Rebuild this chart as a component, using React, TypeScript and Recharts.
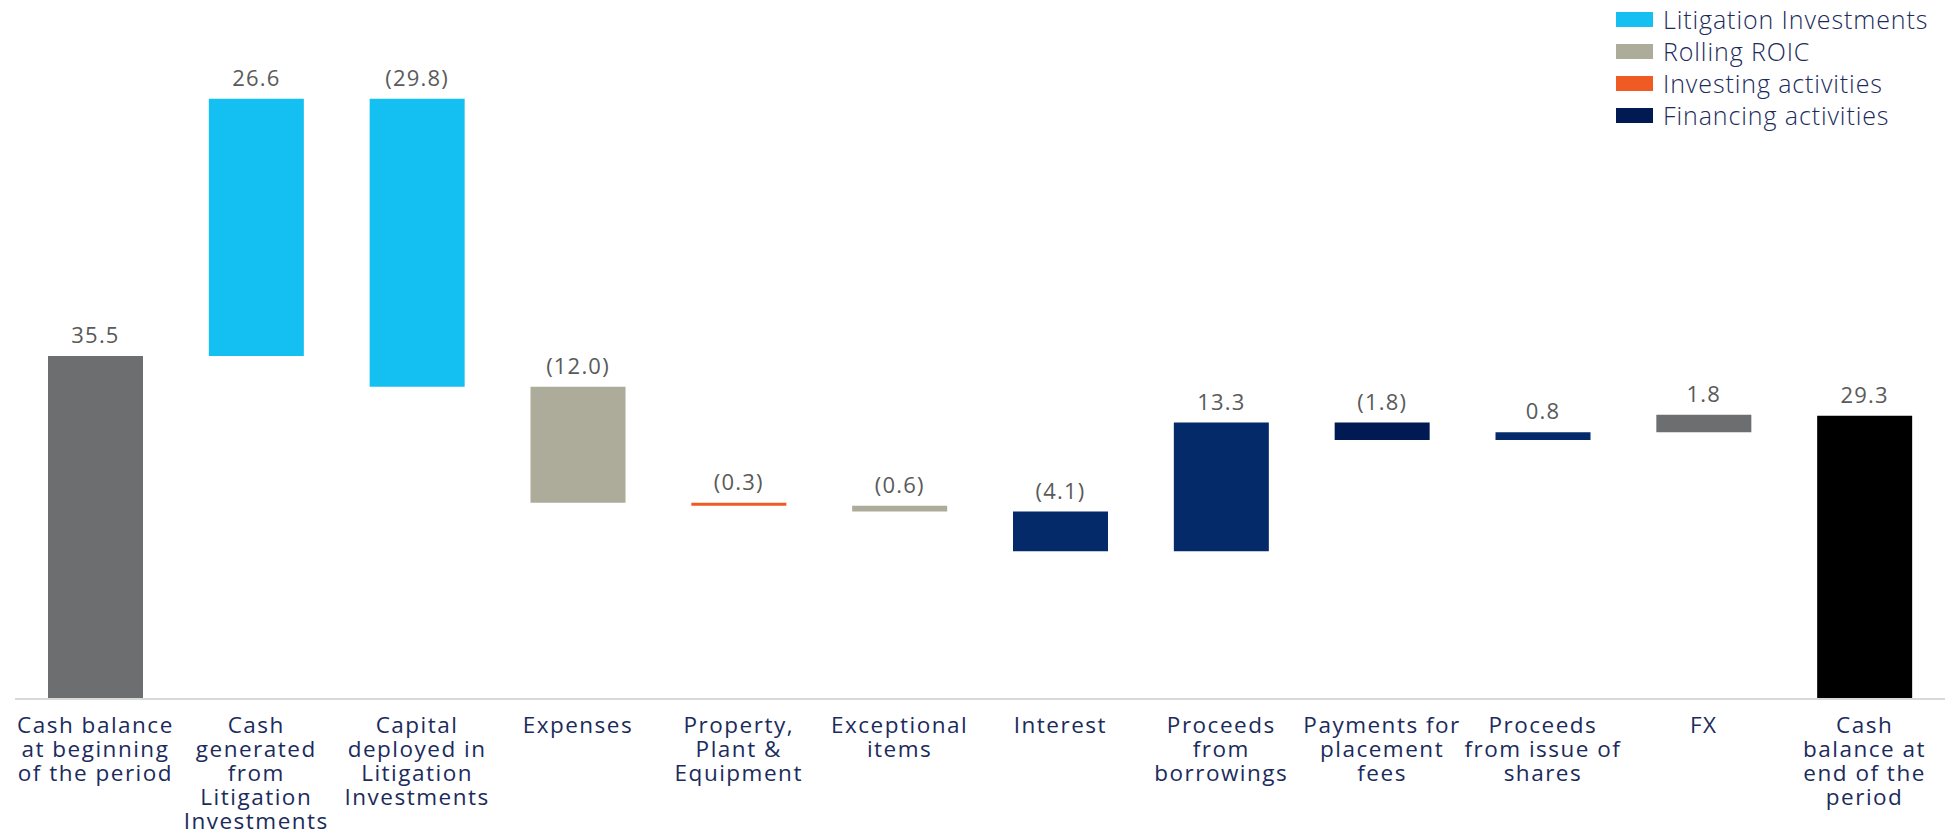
import React from 'react';
import { Bar, BarChart, Cell, LabelList, Legend, XAxis, YAxis } from 'recharts';

const categories = [
  'Cash balance\nat beginning\nof the period',
  'Cash\ngenerated\nfrom\nLitigation\nInvestments',
  'Capital\ndeployed in\nLitigation\nInvestments',
  'Expenses',
  'Property,\nPlant &\nEquipment',
  'Exceptional\nitems',
  'Interest',
  'Proceeds\nfrom\nborrowings',
  'Payments for\nplacement\nfees',
  'Proceeds\nfrom issue of\nshares',
  'FX',
  'Cash\nbalance at\nend of the\nperiod',
];

// movements in the period; first and last are balances
const changes = [35.5, 26.6, -29.8, -12.0, -0.3, -0.6, -4.1, 13.3, -1.8, 0.8, 1.8, 29.3];
const isTotal = [true, false, false, false, false, false, false, false, false, false, false, true];

const barColors = [
  '#6d6e70', '#14bff2', '#14bff2', '#adab99', '#f05a23', '#adab99',
  '#052a6a', '#052a6a', '#011a54', '#052a6a', '#6d6e70', '#000000',
];

const legendNames = ['Litigation Investments', 'Rolling ROIC', 'Investing activities', 'Financing activities'];
const legendColors = ['#14bff2', '#adab99', '#f05a23', '#011a54'];

const FONT = '"Open Sans", sans-serif';

const fmt = (v: number) => (v < 0 ? `(${Math.abs(v).toFixed(1)})` : v.toFixed(1));

let running = 0;
const rows = categories.map((name, i) => {
  const v = changes[i];
  let range: [number, number];
  if (isTotal[i]) {
    range = [0, v];
    running = v;
  } else {
    const next = running + v;
    range = [Math.min(running, next), Math.max(running, next)];
    running = next;
  }
  return { name, range, label: fmt(v) };
});

function CategoryTick({ x, y, payload }: any) {
  const lines = String(payload.value).split('\n');
  return (
    <g transform={`translate(${x},${y})`}>
      <text textAnchor="middle" fill="#1b2b5c" fontSize={22.5} letterSpacing={1.5} fontFamily={FONT}>
        {lines.map((l, i) => (
          <tspan key={i} x={0} dy={i === 0 ? 26 : 24}>
            {l}
          </tspan>
        ))}
      </text>
    </g>
  );
}

function ValueLabel(props: any) {
  const box = props.viewBox || props;
  const cx = box.x + box.width / 2;
  return (
    <text x={cx} y={box.y - 13} textAnchor="middle" fill="#5a5a5a" fontSize={22} letterSpacing={1.2} fontFamily={FONT}>
      {props.value}
    </text>
  );
}

function LegendBox() {
  return (
    <div style={{ fontFamily: FONT }}>
      {legendNames.map((n, i) => (
        <div key={n} style={{ display: 'flex', alignItems: 'center', height: 32 }}>
          <span style={{ width: 37, height: 15, background: legendColors[i], marginRight: 10, display: 'inline-block' }} />
          <span style={{ fontSize: 25, fontWeight: 300, letterSpacing: 0.9, color: '#1b2b5c', whiteSpace: 'nowrap' }}>{n}</span>
        </div>
      ))}
    </div>
  );
}

export default function App() {
  return (
    <div style={{ position: 'absolute', left: 0, top: 0, width: 1949, height: 831, background: '#fff' }}>
      <BarChart width={1949} height={831} data={rows} margin={{ top: 22.5, right: 4, bottom: 0, left: 15 }} barSize={95}>
        <XAxis
          dataKey="name"
          interval={0}
          tickLine={false}
          axisLine={{ stroke: '#d9d9d9', strokeWidth: 2 }}
          tick={<CategoryTick />}
          height={132}
        />
        <YAxis hide domain={[0, 70]} />
        <Legend
          layout="vertical"
          align="center"
          verticalAlign="middle"
          content={() => <LegendBox />}
          wrapperStyle={{ top: 3, left: 1616, width: 333 }}
        />
        <Bar dataKey="range" isAnimationActive={false}>
          {rows.map((r, i) => (
            <Cell key={r.name} fill={barColors[i]} />
          ))}
          <LabelList dataKey="label" content={<ValueLabel />} />
        </Bar>
      </BarChart>
    </div>
  );
}
